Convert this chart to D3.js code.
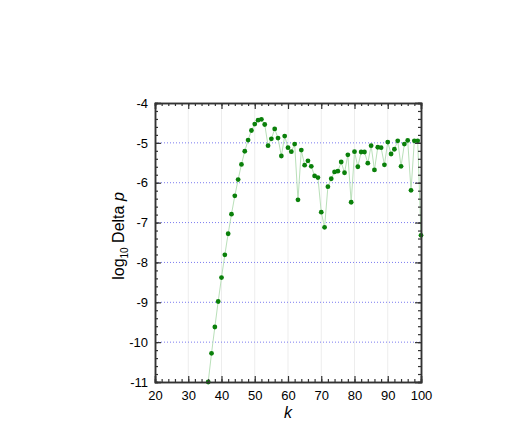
<!DOCTYPE html>
<html lang="en">
<head>
  <meta charset="UTF-8">
  <title>log10 Delta p vs k</title>
  <style>
    body { margin: 0; background: #fff; }
    text { font-family: "Liberation Sans", Arial, sans-serif; fill: #000; }
  </style>
</head>
<body>
  <script src="https://d3js.org/d3.v7.min.js"></script>
  <script>
    // k values and log10 of Delta p
    const kValues = [36, 37, 38, 39, 40, 41, 42, 43, 44, 45, 46, 47, 48, 49, 50,
      51, 52, 53, 54, 55, 56, 57, 58, 59, 60, 61, 62, 63, 64, 65, 66, 67, 68, 69, 70,
      71, 72, 73, 74, 75, 76, 77, 78, 79, 80, 81, 82, 83, 84, 85, 86, 87, 88, 89, 90,
      91, 92, 93, 94, 95, 96, 97, 98, 99, 100]
    const logDelta = [-11.0, -10.28, -9.62, -8.98, -8.38, -7.81, -7.28, -6.79, -6.33, -5.92, -5.54,
      -5.21, -4.93, -4.69, -4.53, -4.43, -4.41, -4.54, -5.07, -4.9, -4.65, -4.88, -5.33, -4.83, -5.12,
      -5.22, -5.03, -6.43, -5.18, -5.56, -5.45, -5.59, -5.83, -5.87, -6.74,
      -7.12, -6.1, -5.9, -5.73, -5.71, -5.48, -5.75, -5.3, -6.49, -5.22,
      -5.6, -5.23, -5.23, -5.51, -5.07, -5.68, -5.11, -5.12, -5.55, -4.98,
      -5.28, -5.16, -4.95, -5.59, -5.03, -4.94, -6.19, -4.95, -4.95, -7.32]

    const xTicks = [20, 30, 40, 50, 60, 70, 80, 90, 100]
    const yTicks = [-11, -10, -9, -8, -7, -6, -5, -4]

    const data = kValues.map((k, i) => ({ k: k, v: logDelta[i] }))

    const width = 520, height = 426
    const margin = { left: 155, right: 99, top: 103, bottom: 44 }
    const innerW = width - margin.left - margin.right
    const innerH = height - margin.top - margin.bottom

    const x = d3.scaleLinear().domain([20, 100]).range([0, innerW])
    const y = d3.scaleLinear().domain([-11, -4]).range([innerH, 0])

    const svg = d3.select('body').append('svg')
      .attr('width', width)
      .attr('height', height)

    svg.append('defs').append('clipPath').attr('id', 'plot-clip')
      .append('rect').attr('width', innerW).attr('height', innerH)

    const g = svg.append('g')
      .attr('transform', `translate(${margin.left},${margin.top})`)

    // vertical grid (faint)
    g.append('g').selectAll('line')
      .data(xTicks.slice(1, -1))
      .join('line')
      .attr('x1', d => x(d)).attr('x2', d => x(d))
      .attr('y1', 0).attr('y2', innerH)
      .attr('stroke', '#ededed')
      .attr('stroke-width', 1)

    // horizontal dotted grid
    g.append('g').selectAll('line')
      .data(yTicks.slice(1, -1))
      .join('line')
      .attr('x1', 0).attr('x2', innerW)
      .attr('y1', d => y(d)).attr('y2', d => y(d))
      .attr('stroke', '#7b7bf0')
      .attr('stroke-width', 1)
      .attr('stroke-dasharray', '1,2')

    const plot = g.append('g').attr('clip-path', 'url(#plot-clip)')

    const line = d3.line()
      .x(d => x(d.k))
      .y(d => y(d.v))

    plot.append('path')
      .datum(data)
      .attr('d', line)
      .attr('fill', 'none')
      .attr('stroke', '#b9e0b9')
      .attr('stroke-width', 1)

    g.selectAll('circle')
      .data(data)
      .join('circle')
      .attr('cx', d => x(d.k))
      .attr('cy', d => y(d.v))
      .attr('r', 2.4)
      .attr('fill', '#0a800a')

    // axes, ticks pointing inwards, mirrored on top/right
    const axisColor = '#333'
    const xMinor = d3.range(20, 101, 2)
    const yMinor = d3.range(-11, -3.99, 0.2)
    const plain = d => String(d)   // plain hyphen minus like the original

    const xBottom = d3.axisBottom(x).tickValues(xTicks).tickSize(-6).tickPadding(9).tickFormat(plain)
    const xTop = d3.axisTop(x).tickValues(xTicks).tickSize(-6).tickFormat('')
    const yLeft = d3.axisLeft(y).tickValues(yTicks).tickSize(-6).tickPadding(7).tickFormat(plain)
    const yRight = d3.axisRight(y).tickValues(yTicks).tickSize(-6).tickFormat('')

    g.append('g').attr('transform', `translate(0,${innerH})`).call(xBottom)
    g.append('g').call(xTop)
    g.append('g').call(yLeft)
    g.append('g').attr('transform', `translate(${innerW},0)`).call(yRight)

    // minor ticks
    g.append('g').attr('transform', `translate(0,${innerH})`)
      .call(d3.axisBottom(x).tickValues(xMinor).tickSize(-3).tickFormat(''))
    g.append('g')
      .call(d3.axisTop(x).tickValues(xMinor).tickSize(-3).tickFormat(''))
    g.append('g')
      .call(d3.axisLeft(y).tickValues(yMinor).tickSize(-3).tickFormat(''))
    g.append('g').attr('transform', `translate(${innerW},0)`)
      .call(d3.axisRight(y).tickValues(yMinor).tickSize(-3).tickFormat(''))

    g.selectAll('.domain').attr('stroke', axisColor).attr('stroke-width', 1.5)
    g.selectAll('.tick line').attr('stroke', axisColor).attr('stroke-width', 1.2)
    g.selectAll('.tick text').style('font-size', '13px').attr('fill', '#000')
      .style('font-family', '"Liberation Sans", Arial, sans-serif')

    // axis titles
    svg.append('text')
      .attr('x', margin.left + innerW / 2)
      .attr('y', 418)
      .attr('text-anchor', 'middle')
      .style('font-size', '16px')
      .style('font-style', 'italic')
      .text('k')

    const yt = svg.append('text')
      .attr('transform', `translate(124,236) rotate(-90)`)
      .attr('text-anchor', 'middle')
      .style('font-size', '16px')
    yt.append('tspan').text('log')
    yt.append('tspan').attr('dy', 4).style('font-size', '10px').text('10')
    yt.append('tspan').attr('dy', -4).text(' Delta ')
    yt.append('tspan').style('font-style', 'italic').text('p')
  </script>
</body>
</html>
